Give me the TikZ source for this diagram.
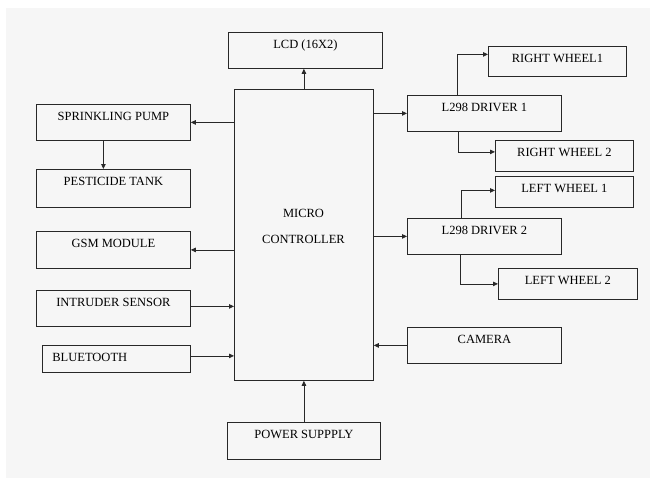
\documentclass[tikz,border=0pt]{standalone}
\usepackage{fontspec}
\setmainfont{Liberation Serif}
\usepackage{xcolor}
\definecolor{panelgray}{RGB}{246,246,246}
\definecolor{edgegray}{RGB}{40,40,40}
\usetikzlibrary{arrows.meta,positioning,calc}

\begin{document}
\begin{tikzpicture}[x=1pt, y=-1pt,
  blk/.style={draw=edgegray, line width=0.8pt, inner sep=0pt, text height=16pt, font=\fontsize{12.5}{15}\selectfont, anchor=north west},
  link/.style={draw=edgegray, line width=0.8pt, -{Triangle[length=5pt,width=4.5pt]}}]
  % Canvas
  \useasboundingbox (0,0) rectangle (654,479);
  \fill[white] (0,0) rectangle (654,479);
  \fill[panelgray] (6,8) rectangle (650,478);

  % Controller
  \node[draw=edgegray, line width=0.8pt, minimum width=139pt, minimum height=291pt, inner sep=0pt, anchor=north west] (mc) at (234,89) {};
  \node[font=\fontsize{12.5}{15}\selectfont, align=center] (mclbl) at (303.5,226) {MICRO\\[11pt]CONTROLLER};

  % Left column
  \node[blk, minimum width=154pt, text depth=20pt] (lcd) at (228,32) {LCD (16X2)};
  \node[blk, minimum width=154pt, text depth=20pt] (pump) at (36,104) {SPRINKLING PUMP};
  \node[blk, minimum width=154pt, text depth=22pt] (tank) at (36,169) {PESTICIDE TANK};
  \node[blk, minimum width=154pt, text depth=21pt] (gsm) at (36,231) {GSM MODULE};
  \node[blk, minimum width=154pt, text depth=20pt] (intr) at (36,290) {INTRUDER SENSOR};
  \node[blk, text width=128pt, inner xsep=10pt, align=left, text depth=11pt] (bt) at (42,345) {BLUETOOTH};
  \node[blk, minimum width=153pt, text depth=21pt] (pwr) at (227,422) {POWER SUPPPLY};

  % Right column
  \node[blk, minimum width=154pt, text depth=20pt] (drv1) at (407,95) {L298 DRIVER 1};
  \node[blk, minimum width=154pt, text depth=20pt] (drv2) at (407,218) {L298 DRIVER 2};
  \node[blk, minimum width=154pt, text depth=20pt] (cam) at (407,327) {CAMERA};
  \node[blk, minimum width=138pt, text depth=14pt] (rw1) at (488,46) {RIGHT WHEEL1};
  \node[blk, minimum width=138pt, text depth=15pt] (rw2) at (495,140) {RIGHT WHEEL 2};
  \node[blk, minimum width=138pt, text depth=15pt] (lw1) at (495,176) {LEFT WHEEL 1};
  \node[blk, minimum width=139pt, text depth=15pt] (lw2) at (498,268) {LEFT WHEEL 2};

  % Connectors
  \draw[link] (mc.north) -- (mc.north |- lcd.south);
  \draw[link] (pwr.north -| mc.south) -- (mc.south);
  \draw[link] (mc.west |- pump.east) -- (pump.east);
  \draw[link] ([xshift=-10pt]pump.south) -- ([xshift=-10pt]pump.south |- tank.north);
  \draw[link] (mc.west |- gsm.east) -- (gsm.east);
  \draw[link] ([yshift=2pt]intr.east) -- ([yshift=2pt]mc.west |- intr.east);
  \draw[link] ([yshift=3pt]bt.east) -- ([yshift=3pt]mc.west |- bt.east);
  \draw[link] (mc.east |- drv1.west) -- (drv1.west);
  \draw[link] (mc.east |- drv2.west) -- (drv2.west);
  \draw[link] (cam.west) -- (mc.east |- cam.west);
  \draw[link] ([xshift=-27pt]drv1.north) |- ([yshift=7pt]rw1.west);
  \draw[link] ([xshift=-26pt]drv1.south) |- ([yshift=4pt]rw2.west);
  \draw[link] ([xshift=-23pt]drv2.north) |- ([yshift=1.5pt]lw1.west);
  \draw[link] ([xshift=-24pt]drv2.south) |- (lw2.west);
\end{tikzpicture}
\end{document}
